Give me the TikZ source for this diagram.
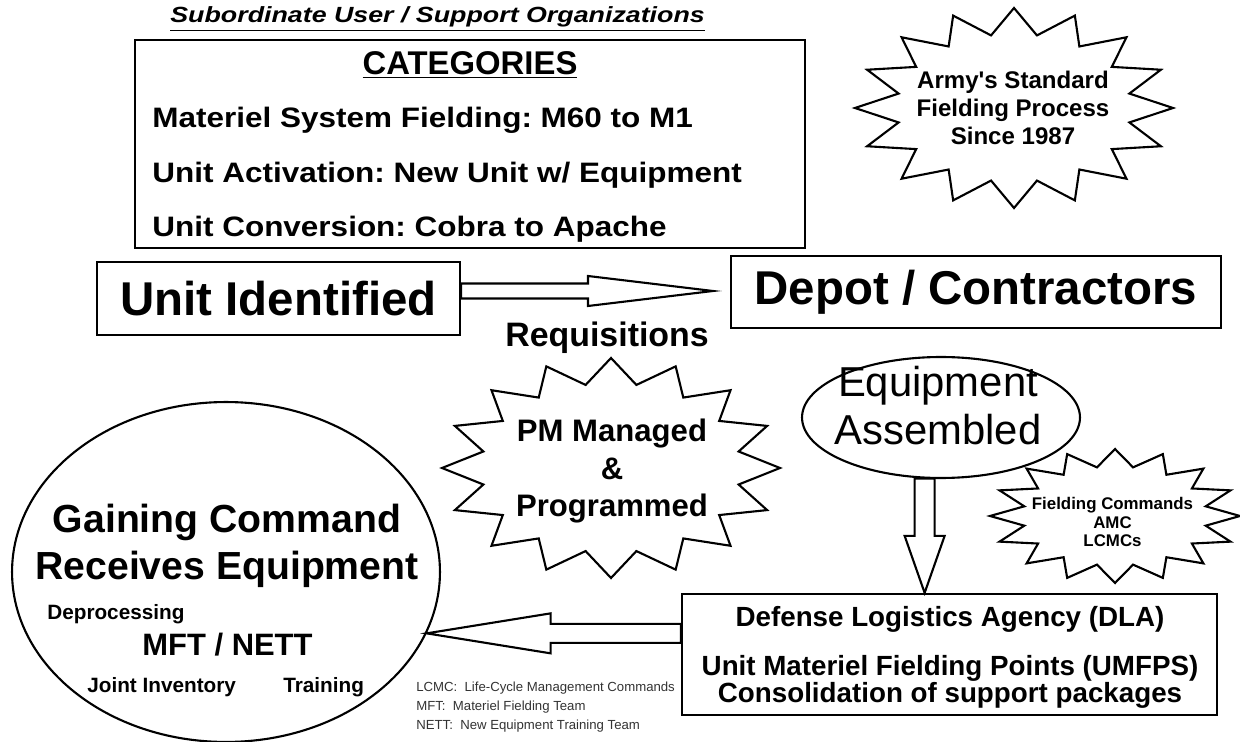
\documentclass[tikz,border=0pt]{standalone}
\usepackage{fontspec}
\setmainfont{Liberation Sans}
\frenchspacing
\usetikzlibrary{shapes.geometric,calc,positioning}

\begin{document}
\begin{tikzpicture}[x=0.02cm,y=-0.02cm,
    box/.style={draw,rectangle,line width=1.3pt,inner sep=0pt},
    oval/.style={draw,ellipse,line width=1.2pt,inner sep=0pt},
    burstline/.style={line width=1.2pt,line join=miter},
    arrowline/.style={line width=1.2pt,line join=miter,fill=white},
    txt/.style={inner sep=0pt,font=\bfseries\fontsize{#1}{#1}\selectfont},
    widetxt/.style={inner sep=0pt,font=\bfseries\fontsize{#1}{#1}\selectfont\addfontfeature{FakeStretch=1.12}},
    plain/.style={inner sep=0pt,font=\fontsize{#1}{#1}\selectfont}]
    % Page size of the reference (1240 x 742 px)
    \useasboundingbox (0,0) rectangle (1240,742);
    % Straight apostrophe
    \def\apos{\XeTeXglyph\XeTeXglyphindex "quotesingle"\relax}
    % Starburst: centre x, centre y, radius x, radius y, inner ratio
    \def\burst#1#2#3#4#5{%
        \draw[burstline] plot[variable=\k,samples at={0,...,31}]
            ({#1+#3*(1-(1-#5)*mod(\k,2))*cos(90+\k*11.25)},
             {#2+#4*(1-(1-#5)*mod(\k,2))*sin(90+\k*11.25)}) -- cycle;}
    % Hollow block arrow: tail, tip, half shaft, half head, head length
    \def\blockarrow#1#2#3#4#5{%
        \coordinate (ba-t) at (#1);
        \coordinate (ba-p) at (#2);
        \coordinate (ba-b) at ($(ba-p)!#5!(ba-t)$);
        \draw[arrowline] ($(ba-t)!#3!90:(ba-p)$) -- ($(ba-b)!#3!90:(ba-p)$)
            -- ($(ba-b)!#4!90:(ba-p)$) -- (ba-p) -- ($(ba-b)!#4!-90:(ba-p)$)
            -- ($(ba-b)!#3!-90:(ba-p)$) -- ($(ba-t)!#3!-90:(ba-p)$) -- cycle;}

    % Heading and categories
    \node[inner sep=0pt,anchor=base west,font=\bfseries\itshape\fontsize{12.5pt}{12.5pt}\selectfont\addfontfeature{FakeStretch=1.22}] (suborg) at (170,23) {\underline{Subordinate User / Support Organizations}};
    \node[box,minimum width=13.4cm,minimum height=4.16cm] (cats) at (470,144) {};
    \node[txt=18.7pt,anchor=base] (catshead) at (470,75) {\underline{CATEGORIES}};
    \node[widetxt=16pt,anchor=base west] (cat1) at (152,128) {Materiel System Fielding: M60 to M1};
    \node[widetxt=16pt,anchor=base west] (cat2) at (152,183) {Unit Activation: New Unit w/ Equipment};
    \node[widetxt=16pt,anchor=base west] (cat3) at (152,237) {Unit Conversion: Cobra to Apache};

    % Army star
    \burst{1014}{108}{159}{100}{0.74}
    \foreach \t [count=\i] in {Army\apos s Standard,Fielding Process,Since 1987} {
        \node[txt=13.7pt,anchor=base] (army\i) at (1013,61+27.8*\i) {\t};
    }

    % Unit -> depot
    \node[box,minimum width=7.26cm,minimum height=1.46cm,txt=27pt] (unit) at (278.5,298.5) {Unit Identified};
    \node[box,minimum width=9.8cm,minimum height=1.44cm,txt=27pt] (depot) at (976,292) {Depot / Contractors};
    \coordinate (reqtip) at (713,291);
    \blockarrow{unit.east |- reqtip}{reqtip}{0.15cm}{0.3cm}{2.5cm}
    \node[txt=19.3pt,anchor=base] (req) at (607,347) {Requisitions};

    % PM star
    \burst{611}{468}{169}{110}{0.77}
    \node[txt=17.7pt,anchor=base] (pm1) at (612,441.7) {PM Managed};
    \node[txt=17.7pt,anchor=base] (pm2) at (612,480) {\&};
    \node[txt=17.7pt,anchor=base] (pm3) at (612,516.7) {Programmed};

    % Equipment assembled
    \node[oval,minimum width=5.56cm,minimum height=2.42cm] (equip) at (941,417.5) {};
    \node[plain=23.8pt,anchor=base] (equip1) at (938,397) {Equipment};
    \node[plain=23.8pt,anchor=base] (equip2) at (938,445) {Assembled};

    % Fielding commands star
    \burst{1115}{516}{125}{67}{0.74}
    \foreach \t [count=\i] in {Fielding Commands,AMC,LCMCs} {
        \node[txt=9.6pt,anchor=base] (fc\i) at (1112.5,491.5+18.5*\i) {\t};
    }

    % DLA box
    \node[box,minimum width=10.7cm,minimum height=2.42cm] (dla) at (949.5,654.5) {};
    \node[txt=15.8pt,anchor=base] (dla1) at (950,626.7) {Defense Logistics Agency (DLA)};
    \node[txt=15.8pt,anchor=base] (dla2) at (950,675) {Unit Materiel Fielding Points (UMFPS)};
    \node[txt=15.8pt,anchor=base] (dla3) at (950,702) {Consolidation of support packages};
    \blockarrow{equip.-105}{equip.-105 |- dla.north}{0.2cm}{0.4cm}{1.14cm}

    % Gaining command
    \node[oval,minimum width=8.56cm,minimum height=6.8cm] (gain) at (226,572) {};
    \node[txt=22.3pt,anchor=base] (gain1) at (227,533) {Gaining Command};
    \node[txt=22.3pt,anchor=base] (gain2) at (227,580) {Receives Equipment};
    \node[txt=11.8pt,anchor=base west] (deproc) at (47,620) {Deprocessing};
    \node[txt=17.6pt,anchor=base] (mft) at (227.5,655) {MFT / NETT};
    \node[txt=11.8pt,anchor=base west] (joint) at (87,692.7) {Joint Inventory};
    \node[txt=11.8pt,anchor=base west] (train) at (283,692.7) {Training};
    \blockarrow{dla.west |- gain.-17}{gain.-17}{0.19cm}{0.4cm}{2.48cm}

    % Abbreviations
    \node[plain=7.5pt,anchor=base west,text=black!80] (lcmc) at (416,691) {LCMC:\ \ Life-Cycle Management Commands};
    \node[plain=7.5pt,anchor=base west,text=black!80] (mftdef) at (416,710.7) {MFT:\ \ Materiel Fielding Team};
    \node[plain=7.5pt,anchor=base west,text=black!80] (nettdef) at (416,729) {NETT:\ \ New Equipment Training Team};
\end{tikzpicture}
\end{document}
